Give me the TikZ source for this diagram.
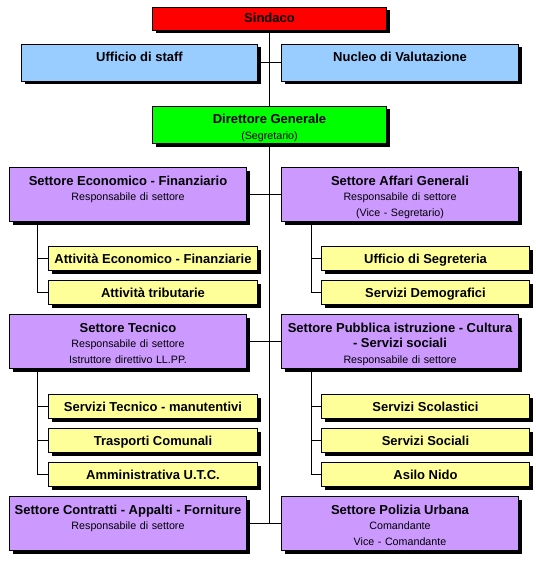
\documentclass[tikz,border=0pt]{standalone}
\usepackage{fontspec}
\setmainfont{Liberation Sans}
\usetikzlibrary{shadows}
\definecolor{cred}{RGB}{255,0,0}
\definecolor{cblue}{RGB}{153,204,255}
\definecolor{cgreen}{RGB}{0,255,0}
\definecolor{cpurple}{RGB}{204,153,255}
\definecolor{cyellow}{RGB}{255,255,153}
\newcommand\ttl[1]{{\fontsize{13}{15.5}\selectfont\bfseries #1}}
\tikzset{
  box/.style={draw=black, line width=1pt, inner sep=0pt, align=center, anchor=north west,
    font=\fontsize{10.7}{15.5}\selectfont,
    drop shadow={shadow xshift=3pt, shadow yshift=-3pt, fill=black, opacity=1}},
  topbox/.style={box, text width=234pt},
  bluebox/.style={box, fill=cblue, text height=17.5pt, text depth=19.5pt},
  purplebox/.style={box, fill=cpurple, text width=237pt, text height=17.5pt, text depth=36.5pt},
  yellowbox/.style={box, fill=cyellow, text height=16.5pt, text depth=7.5pt},
  yl/.style={yellowbox, text width=209pt},
  yr/.style={yellowbox, text width=208pt},
  link/.style={draw=black, line width=1pt}
}
\begin{document}
\begin{tikzpicture}[x=1pt, y=-1pt]
\useasboundingbox[fill=white] (0,0) rectangle (535,583);
% top
\node[topbox, fill=cred, text height=15.5pt, text depth=7.5pt] (sindaco) at (152,7) {\ttl{Sindaco}};
\node[bluebox, text width=236pt] (ufficio) at (21,44) {\ttl{Ufficio di staff}};
\node[bluebox, text width=237pt] (nucleo) at (281,44) {\ttl{Nucleo di Valutazione}};
\node[topbox, fill=cgreen, text height=17.5pt, text depth=19.5pt] (direttore) at (152,106) {\ttl{Direttore Generale}\\(Segretario)};
% sectors
\node[purplebox] (econ) at (9,167) {\ttl{Settore Economico - Finanziario}\\Responsabile di settore};
\node[purplebox] (affari) at (281,167) {\ttl{Settore Affari Generali}\\Responsabile di settore\\(Vice - Segretario)};
\node[yl] (att1) at (48,246) {\ttl{Attività Economico - Finanziarie}};
\node[yl] (att2) at (48,280) {\ttl{Attività tributarie}};
\node[yr] (segr) at (321,246) {\ttl{Ufficio di Segreteria}};
\node[yr] (demo) at (321,280) {\ttl{Servizi Demografici}};
\node[purplebox] (tecn) at (9,314) {\ttl{Settore Tecnico}\\Responsabile di settore\\Istruttore direttivo LL.PP.};
\node[purplebox] (pubb) at (281,314) {\ttl{Settore Pubblica istruzione - Cultura}\\\ttl{- Servizi sociali}\\Responsabile di settore};
\node[yl] (manu) at (48,394) {\ttl{Servizi Tecnico - manutentivi}};
\node[yl] (trasp) at (48,428) {\ttl{Trasporti Comunali}};
\node[yl] (ammi) at (48,462) {\ttl{Amministrativa U.T.C.}};
\node[yr] (scol) at (321,394) {\ttl{Servizi Scolastici}};
\node[yr] (soc) at (321,428) {\ttl{Servizi Sociali}};
\node[yr] (asilo) at (321,462) {\ttl{Asilo Nido}};
\node[purplebox] (contr) at (9,496) {\ttl{Settore Contratti - Appalti - Forniture}\\Responsabile di settore};
\node[purplebox] (poli) at (281,496) {\ttl{Settore Polizia Urbana}\\Comandante\\Vice - Comandante};
% connectors
\coordinate (cend) at (direttore.south |- contr.east);
\draw[link] (sindaco.south) -- (direttore.north);
\draw[link] (direttore.south) -- (cend);
\draw[link] (ufficio.east) -- (nucleo.west);
\draw[link] (econ.east) -- (affari.west);
\draw[link] (tecn.east) -- (pubb.west);
\draw[link] (contr.east) -- (poli.west);
\coordinate (b1) at ([xshift=28pt]econ.south west);
\coordinate (b2) at ([xshift=30pt]affari.south west);
\coordinate (b3) at ([xshift=28pt]tecn.south west);
\coordinate (b4) at ([xshift=30pt]pubb.south west);
\draw[link] (b1) |- (att2.west);
\draw[link] (b1 |- att1.west) -- (att1.west);
\draw[link] (b2) |- (demo.west);
\draw[link] (b2 |- segr.west) -- (segr.west);
\draw[link] (b3) |- (ammi.west);
\draw[link] (b3 |- manu.west) -- (manu.west);
\draw[link] (b3 |- trasp.west) -- (trasp.west);
\draw[link] (b4) |- (asilo.west);
\draw[link] (b4 |- scol.west) -- (scol.west);
\draw[link] (b4 |- soc.west) -- (soc.west);
\end{tikzpicture}
\end{document}
